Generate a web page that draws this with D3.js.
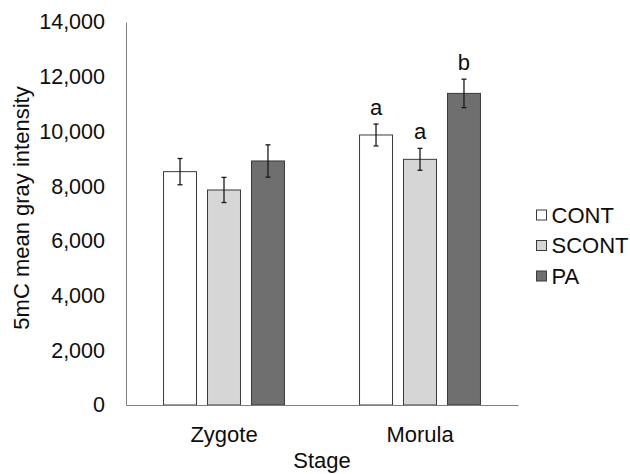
<!DOCTYPE html>
<html>
<head>
<meta charset="utf-8">
<script src="https://cdn.jsdelivr.net/npm/d3@7"></script>
<style>
    body { margin: 0; background: #fff; }
    svg { display: block; }
    text { font-family: "Liberation Sans", Arial, sans-serif; fill: #0d0d0d; }
</style>
</head>
<body>
<svg></svg>
<script>
const stages = ["Zygote", "Morula"];
const series = ["CONT", "SCONT", "PA"];
const means = {
    CONT: [8530, 9870],
    SCONT: [7860, 8980],
    PA: [8920, 11390]
};
const errors = {
    CONT: [480, 400],
    SCONT: [460, 400],
    PA: [590, 520]
};
const letters = {
    CONT: ["", "a"],
    SCONT: ["", "a"],
    PA: ["", "b"]
};
const yTicks = [0, 2000, 4000, 6000, 8000, 10000, 12000, 14000];
const fills = { CONT: "#ffffff", SCONT: "#d6d6d6", PA: "#6f6f6f" };

const WIDTH = 630, HEIGHT = 474;
let svg = d3.select("svg").attr("width", WIDTH).attr("height", HEIGHT);

let margin = { top: 22, left: 126, right: 112, bottom: 69 };
let x0 = d3.scaleBand()
    .domain(stages)
    .range([margin.left, WIDTH - margin.right])
    .paddingInner(0.383)
    .paddingOuter(0.1915);
let x1 = d3.scaleBand()
    .domain(series)
    .range([0, x0.bandwidth()])
    .paddingInner(0.25);
let y = d3.scaleLinear()
    .domain([0, 14000])
    .range([HEIGHT - margin.bottom, margin.top]);

let rows = [];
stages.forEach((st, i) => {
    series.forEach(s => {
        rows.push({ stage: st, series: s, value: means[s][i], err: errors[s][i], letter: letters[s][i] });
    });
});

// y axis
let yAxis = svg.append("g")
    .attr("transform", "translate(" + margin.left + ",0)")
    .call(d3.axisLeft(y).tickValues(yTicks).tickSize(0).tickPadding(21).tickFormat(d3.format(",")));
yAxis.select(".domain").attr("stroke", "#7f7f7f").attr("stroke-width", 1);
yAxis.selectAll("text").style("font-size", "21.5px").attr("fill", "#0d0d0d");

// bars
svg.append("g").selectAll("rect")
    .data(rows)
    .join("rect")
    .attr("x", d => x0(d.stage) + x1(d.series))
    .attr("y", d => y(d.value))
    .attr("width", x1.bandwidth())
    .attr("height", d => y(0) - y(d.value))
    .attr("fill", d => fills[d.series])
    .attr("stroke", "#3a3a3a")
    .attr("stroke-width", 1);

// x axis
let xAxis = svg.append("g")
    .attr("transform", "translate(0," + y(0) + ")")
    .call(d3.axisBottom(x0).tickSize(0).tickSizeOuter(0).tickPadding(21));
xAxis.select(".domain").attr("stroke", "#7f7f7f").attr("stroke-width", 1);
xAxis.selectAll("text").style("font-size", "22px").attr("fill", "#0d0d0d");

// error bars
let eb = svg.append("g").attr("stroke", "#1a1a1a").attr("stroke-width", 1.3);
rows.forEach(d => {
    let cx = x0(d.stage) + x1(d.series) + x1.bandwidth() / 2;
    eb.append("line").attr("x1", cx).attr("x2", cx).attr("y1", y(d.value + d.err)).attr("y2", y(d.value - d.err));
    eb.append("line").attr("x1", cx - 2.5).attr("x2", cx + 2.5).attr("y1", y(d.value + d.err)).attr("y2", y(d.value + d.err));
    eb.append("line").attr("x1", cx - 2.5).attr("x2", cx + 2.5).attr("y1", y(d.value - d.err)).attr("y2", y(d.value - d.err));
});

// significance letters
svg.append("g").selectAll("text")
    .data(rows.filter(d => d.letter))
    .join("text")
    .attr("x", d => x0(d.stage) + x1(d.series) + x1.bandwidth() / 2)
    .attr("y", d => y(d.value + d.err) - 9)
    .attr("text-anchor", "middle")
    .style("font-size", "22px")
    .text(d => d.letter);

// axis titles
svg.append("text")
    .attr("text-anchor", "middle")
    .attr("transform", "translate(29,208)rotate(-90)")
    .style("font-size", "22px")
    .text("5mC mean gray intensity");

svg.append("text")
    .attr("text-anchor", "middle")
    .attr("x", (margin.left + WIDTH - margin.right) / 2)
    .attr("y", 468)
    .style("font-size", "22px")
    .text("Stage");

// legend
let legend = svg.append("g").attr("transform", "translate(536,215)");
series.forEach((s, i) => {
    let g = legend.append("g").attr("transform", "translate(0," + (i * 30.5) + ")");
    g.append("rect")
        .attr("x", 0.5).attr("y", -5)
        .attr("width", 10).attr("height", 10)
        .attr("fill", fills[s])
        .attr("stroke", "#3a3a3a")
        .attr("stroke-width", 1);
    g.append("text")
        .attr("x", 15.5)
        .attr("dy", "0.35em")
        .style("font-size", "22px")
        .text(s);
});
</script>
</body>
</html>
